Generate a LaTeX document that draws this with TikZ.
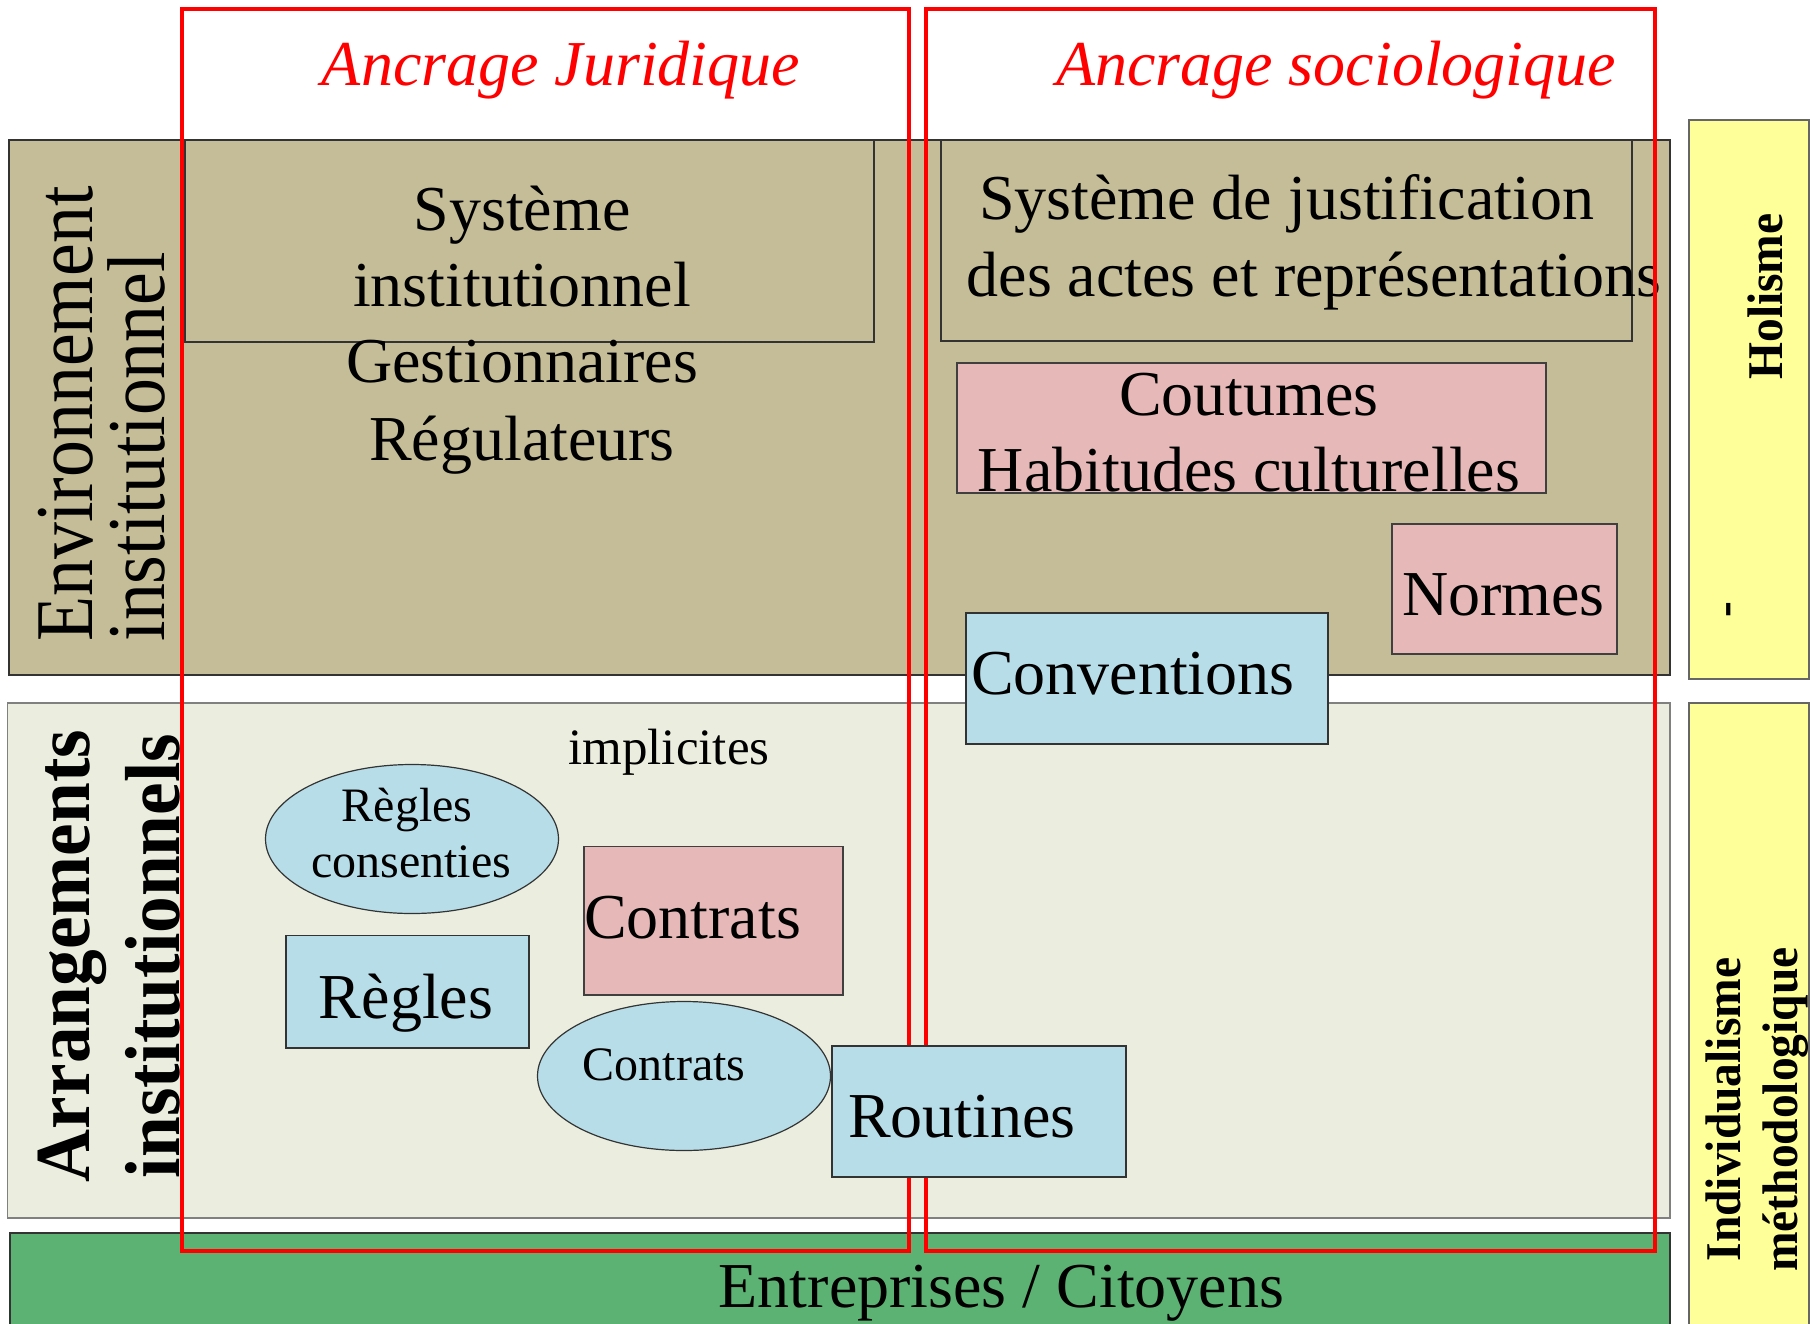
\documentclass[tikz,border=0pt]{standalone}
\usepackage{fontspec}
\setmainfont{Liberation Serif}
\newfontfamily\rotfont[FakeStretch=0.9]{Liberation Serif}
\newfontfamily\rotfontb[FakeStretch=0.94]{Liberation Serif}
\newfontfamily\sidefont[FakeStretch=0.95]{Liberation Serif}
\usetikzlibrary{shapes.geometric,fit}
\definecolor{tanc}{HTML}{C4BD97}
\definecolor{lightc}{HTML}{EBEEDE}
\definecolor{greenc}{HTML}{5CB272}
\definecolor{pinkc}{HTML}{E6B9B8}
\definecolor{bluec}{HTML}{B7DDE8}
\definecolor{yelc}{HTML}{FFFF99}
\begin{document}
\begin{tikzpicture}[x=0.5pt,y=-0.5pt,
  panel/.style={inner sep=0pt, outer sep=0pt, line width=0.6pt},
  tanbox/.style={panel, fill=tanc, draw=black!80},
  lightbox/.style={panel, fill=lightc, draw=black!50},
  greenbox/.style={panel, fill=greenc, draw=black!80},
  yelbox/.style={panel, fill=yelc, draw=black!60},
  pinkbox/.style={panel, fill=pinkc, draw=black!75},
  bluebox/.style={panel, fill=bluec, draw=black!80},
  redbox/.style={panel, draw=red, line width=2pt},
  oval/.style={ellipse, bluebox, minimum width=146.5pt, minimum height=74.5pt},
  txt/.style={inner sep=0pt, outer sep=0pt, anchor=base},
  big/.style={font=\fontsize{32}{38}\selectfont},
  mid/.style={font=\fontsize{24}{29}\selectfont},
  envtxt/.style={txt, anchor=base west, rotate=90, font=\rotfont\fontsize{41}{48}\selectfont},
  arrtxt/.style={txt, anchor=base west, rotate=90, font=\rotfontb\bfseries\fontsize{39}{46}\selectfont},
  sidetxt/.style={txt, rotate=90, font=\sidefont\bfseries\fontsize{25}{30}\selectfont},
]
\useasboundingbox (0,0) rectangle (1810,1323);

% background bands
\node[tanbox, fit={(9,140) (1670,675)}] (env) {};
\node[lightbox, fit={(7.5,703) (1670,1218)}] (arr) {};
\node[greenbox, fit={(10,1233) (1670,1345)}] (ent) {};
\node[yelbox, fit={(1689,120) (1809,679)}] (hol) {};
\node[yelbox, fit={(1689,703) (1809,1345)}] (ind) {};

% inner boxes
\node[tanbox, fit={(185,140) (874,342)}] (sysinst) {};
\node[tanbox, fit={(941,140) (1632,341)}] (sysjust) {};
\node[pinkbox, fit={(957,363) (1546,493)}] (cout) {};
\node[pinkbox, fit={(1392,524) (1617,654)}] (norm) {};
\node[bluebox, fit={(966,613) (1328,744)}] (conv) {};
\node[oval] (regcons) at (412,839) {};
\node[bluebox, fit={(286,935.5) (529,1048)}] (regl) {};
\node[pinkbox, fit={(584,846.5) (843,995)}] (contr) {};
\node[oval] (contrell) at (684,1076) {};

% texts
\node[txt, big] (t1) at (522,230) {Système};
\node[txt, big] (t2) at (522,306) {institutionnel};
\node[txt, big] (t3) at (522,382) {Gestionnaires};
\node[txt, big] (t4) at (522,460) {Régulateurs};
\node[txt, big] (j1) at (1286.5,219) {Système de justification};
\node[txt, big] (j2) at (1314,296) {des actes et représentations};
\node[txt, big] (c1) at (1249,415) {Coutumes};
\node[txt, big] (c2) at (1249,491) {Habitudes culturelles};
\node[txt, big] (nt) at (1503.5,615) {Normes};
\node[txt, big, anchor=base west] (cvt) at (971,694) {Conventions};
\node[txt, font=\fontsize{25.5}{30}\selectfont] (impl) at (669,764) {implicites};
\node[txt, mid] (rc1) at (407,821.5) {Règles};
\node[txt, mid] (rc2) at (411,877) {consenties};
\node[txt, big] (rt) at (406,1018) {Règles};
\node[txt, big, anchor=base west] (ct) at (584,938) {Contrats};
\node[txt, mid] (cet) at (664,1080) {Contrats};
\node[txt, big] (entt) at (1001.5,1307.5) {Entreprises / Citoyens};

\node[envtxt] (e1) at (92,641.5) {Environnement};
\node[envtxt] (e2) at (164.5,641.5) {institutionnel};
\node[arrtxt] (a1) at (89.5,1182) {Arrangements};
\node[arrtxt] (a2) at (179,1178) {institutionnels};
\node[sidetxt] (h1) at (1782,296.5) {Holisme};
\node[sidetxt] (h2) at (1740,610) {-};
\node[sidetxt] (i1) at (1740,1109.5) {Individualisme};
\node[sidetxt] (i2) at (1797,1109.5) {méthodologique};

% anchoring frames
\node[redbox, fit={(182,9) (909,1251)}] (jur) {};
\node[redbox, fit={(926,9) (1655,1251)}] (soc) {};
\node[txt, big, font=\fontsize{32}{38}\selectfont\itshape, text=red] (tj) at (561,85) {Ancrage Juridique};
\node[txt, big, font=\fontsize{32}{38}\selectfont\itshape, text=red] (ts) at (1336,85) {Ancrage sociologique};

% routines box on top
\node[bluebox, fit={(832,1046) (1126,1177)}] (rout) {};
\node[txt, big, anchor=base west] (rtt) at (848,1137) {Routines};
\end{tikzpicture}
\end{document}
